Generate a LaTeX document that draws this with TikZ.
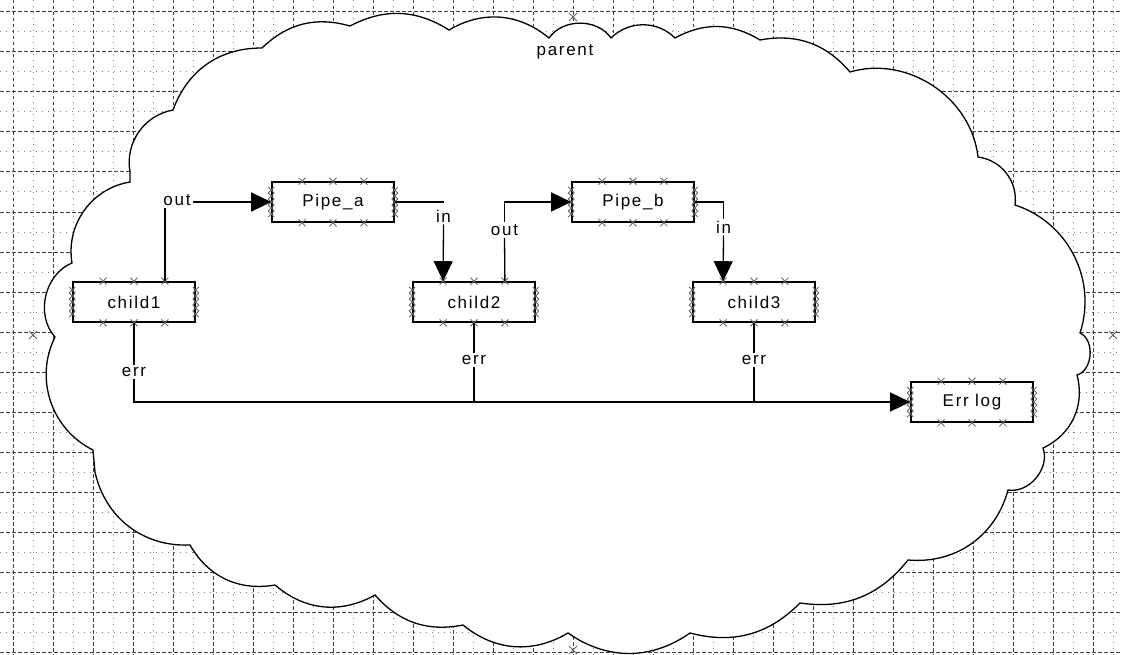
\documentclass[tikz,border=0pt]{standalone}
\usepackage{fontspec}
\setmainfont{Liberation Sans}[LetterSpace=10]
\usetikzlibrary{arrows.meta,calc}
\begin{document}
\begin{tikzpicture}[x=1pt,y=-1pt, font=\fontsize{17}{20}\selectfont,
 blk/.style={draw, line width=1.6pt, minimum width=122pt, minimum height=40pt, inner sep=0pt, fill=white},
 lab/.style={inner sep=2pt},
 wire/.style={line width=1.3pt},
 arr/.style={wire, -{Triangle[length=20pt,width=19pt]}},
 mk/.style={line width=0.8pt, black!60},
 major/.style={black!75, line width=1pt, dash pattern=on 3.5pt off 2.5pt},
 minor/.style={black!50, line width=1pt, dash pattern=on 1.2pt off 4.8pt},
 cloudline/.style={draw=black, line width=1.3pt, fill=white}]
\useasboundingbox[fill=white] (0,0) rectangle (1121,655);
% grid
\foreach \x in {33,73,...,1113} \draw[minor] (\x,0) -- (\x,655);
\foreach \y in {32,72,...,652} \draw[minor] (0,\y) -- (1121,\y);
\foreach \x in {13,53,...,1113} \draw[major] (\x,0) -- (\x,655);
\foreach \y in {12,52,...,652} \draw[major] (0,\y) -- (1121,\y);
% cloud
\path[cloudline] (173,110)
 to[bend left=35] (262,48)
 to[bend left=30] (350,26)
 to[bend left=30] (449,30)
 to[bend left=35] (549,38)
 to[bend left=55] (611,38)
 to[bend left=45] (675,38)
 to[bend left=30] (760,40)
 to[bend left=30] (850,72)
 to[bend left=50] (978,157)
 to[bend left=45] (1015,205)
 to[bend left=45] (1080,333)
 to[bend left=70] (1077,375)
 to[bend left=40] (1043,448)
 to[bend left=60] (1008,490)
 to[bend left=40] (908,560)
 to[bend left=30] (800,603)
 to[bend left=30] (690,633)
 to[bend left=35] (568,633)
 to[bend left=35] (463,625)
 to[bend left=30] (375,595)
 to[bend left=35] (275,585)
 to[bend left=35] (190,545)
 to[bend left=40] (95,472)
 -- (93,450)
 to[bend left=45] (55,337)
 to[bend left=55] (72,263)
 to[bend left=45] (130,182)
 -- (130,172)
 to[bend left=45] (173,110) -- cycle;
% cloud handles
\foreach \p in {(33,335),(1113,335),(573,17),(573,650)}
  \draw[mk] \p ++(-4,-4) -- ++(8,8) ++(-8,0) -- ++(8,-8);
\node (par) at (565,52) {parent};
% blocks
\node[blk] (c1) at (134,302) {child1};
\node[blk] (pa) at (333,202) {Pipe\_a};
\node[blk] (c2) at (474,302) {child2};
\node[blk] (pb) at (633,202) {Pipe\_b};
\node[blk] (c3) at (754,302) {child3};
\node[blk] (el) at (972,402) {Err log};
\foreach \n in {c1,c2,c3,pa,pb,el}{
  \foreach \f in {0.25,0.5,0.75}{
    \draw[mk] ($(\n.north west)!\f!(\n.north east)$) ++(-3.5,-3.5) -- ++(7,7) ++(-7,0) -- ++(7,-7);
    \draw[mk] ($(\n.south west)!\f!(\n.south east)$) ++(-3.5,-3.5) -- ++(7,7) ++(-7,0) -- ++(7,-7);
  }
  \foreach \d in {-12,-6,0,6,12}{
    \draw[mk] ($(\n.west)+(0,\d)$) ++(-3,-3) -- ++(6,6) ++(-6,0) -- ++(6,-6);
    \draw[mk] ($(\n.east)+(0,\d)$) ++(-3,-3) -- ++(6,6) ++(-6,0) -- ++(6,-6);
  }
}
% anchor points
\coordinate (c1out) at ($(c1.north west)!0.75!(c1.north east)$);
\coordinate (c2in)  at ($(c2.north west)!0.25!(c2.north east)$);
\coordinate (c2out) at ($(c2.north west)!0.75!(c2.north east)$);
\coordinate (c3in)  at ($(c3.north west)!0.25!(c3.north east)$);
% labels
\node[lab] (out1) at (177,200) {out};
\node[lab] (in1) at (443.5,216) {in};
\node[lab] (out2) at (504.5,230) {out};
\node[lab] (in2) at (723.5,227) {in};
\node[lab] (err1) at (134,372) {err};
\node[lab] (err2) at (474,360) {err};
\node[lab] (err3) at (754,360) {err};
% connectors
\draw[wire] (c1out) -- (c1out |- out1.south);
\draw[arr] (out1.east |- pa.west) -- (pa.west);
\draw[wire] (pa.east) -- (pa.east -| in1);
\draw[arr] (in1.south) -- (c2in);
\draw[wire] (c2out) -- (out2.south);
\draw[arr] (out2.north) |- (pb.west);
\draw[wire] (pb.east) -| (in2.north);
\draw[arr] (in2.south) -- (c3in);
\draw[wire] (c1.south) -- (err1.north);
\draw[arr] (err1.south) |- (el.west);
\draw[wire] (c2.south) -- (err2.north);
\draw[wire] (err2.south) -- (err2.south |- el.west);
\draw[wire] (c3.south) -- (err3.north);
\draw[wire] (err3.south) -- (err3.south |- el.west);
\end{tikzpicture}
\end{document}
